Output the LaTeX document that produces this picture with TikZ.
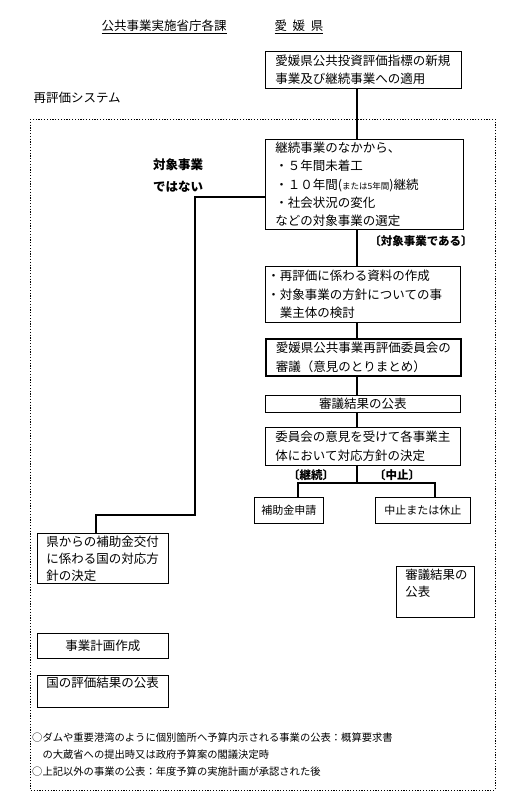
\documentclass[tikz,border=0pt]{standalone}
\usepackage{fontspec}
\newfontfamily\jp{Noto Sans CJK JP}

\begin{document}
\begin{tikzpicture}[x=1pt, y=-1pt,
      every node/.style={font=\jp\fontsize{12.5pt}{18.5pt}\selectfont},
      box/.style={draw, line width=0.8pt, anchor=north west, align=left, inner xsep=10pt, inner ysep=0pt},
      smallbox/.style={box, align=center, inner xsep=2pt, font=\jp\fontsize{11pt}{14pt}\selectfont},
      boldtext/.style={font=\jp\bfseries\fontsize{11.5pt}{22pt}\selectfont},
      link/.style={line width=1.2pt}]
    \useasboundingbox (0,0) rectangle (516,800);
    \node (kacho) at (164,27) {\underline{公共事業実施省庁各課}};
    \node (ken) at (299,27) {\underline{愛\hspace{0.45em}媛\hspace{0.45em}県}};
    \node[box, minimum width=196pt, minimum height=37pt, text width=176pt] (shinki) at (265,51)
        {愛媛県公共投資評価指標の新規\\事業及び継続事業への適用};
    \node[anchor=west] (system) at (30,98) {再評価システム};
    \draw[dash pattern=on 1.2pt off 1.6pt, line width=1pt] (30,119) rectangle (495,790);
    \node[box, minimum width=198pt, minimum height=90pt, text width=178pt,
        font=\jp\fontsize{12.5pt}{18.3pt}\selectfont] (sentei) at (265,139)
        {継続事業のなかから、\\・５年間未着工\\・１０年間({\fontsize{8.5pt}{9pt}\selectfont または5年間})継続\\・社会状況の変化\\などの対象事業の選定};
    \node[boldtext, anchor=north west, align=left, inner sep=0pt,
        font=\jp\bfseries\fontsize{12.5pt}{22pt}\selectfont] (hitaisho) at (153,159) {対象事業\\ではない};
    \node[boldtext] (taisho) at (421,241) {〔対象事業である〕};
    \node[box, minimum width=195pt, minimum height=56pt, text width=191pt, inner xsep=2pt] (shiryo) at (265,266)
        {・再評価に係わる資料の作成\\・対象事業の方針についての事\\　業主体の検討};
    \node[box, line width=1.6pt, minimum width=195pt, minimum height=37pt, text width=175pt] (shingi) at (265,338)
        {愛媛県公共事業再評価委員会の\\審議（意見のとりまとめ）};
    \node[box, align=center, minimum width=195pt, minimum height=17pt, text width=175pt] (kekka) at (265,395)
        {審議結果の公表};
    \node[box, minimum width=195pt, minimum height=38pt, text width=175pt,
        font=\jp\fontsize{12.5pt}{19.5pt}\selectfont] (houshin) at (265,427)
        {委員会の意見を受けて各事業主\\体において対応方針の決定};
    \node[boldtext] (keizokutag) at (311,475) {〔継続〕};
    \node[boldtext] (chushitag) at (397,475) {〔中止〕};
    \node[smallbox, minimum width=69pt, minimum height=26pt] (hojo) at (254,497) {補助金申請};
    \node[smallbox, minimum width=95pt, minimum height=26pt] (kyushi) at (375,497) {中止または休止};
    \node[box, minimum width=131pt, minimum height=50pt, text width=113pt, inner xsep=9pt,
        font=\jp\fontsize{12.5pt}{17pt}\selectfont] (kuni) at (37,533)
        {県からの補助金交付\\に係わる国の対応方\\針の決定};
    \node[box, minimum width=78pt, minimum height=51pt, inner xsep=9pt,
        font=\jp\fontsize{12.4pt}{17pt}\selectfont] (kouhyo) at (396,566)
        {\parbox[t][46pt][t]{60pt}{審議結果の\\公表}};
    \node[box, align=center, minimum width=131pt, minimum height=25pt, text width=113pt, inner xsep=9pt] (keikaku) at (37,633)
        {事業計画作成};
    \node[box, minimum width=131pt, minimum height=32pt, inner xsep=9pt] (hyoka) at (37,675)
        {\parbox[t][28pt][t]{113pt}{国の評価結果の公表}};
    \node[anchor=north west, align=left, inner sep=0pt, font=\jp\fontsize{10.3pt}{17pt}\selectfont] (chuki) at (32,733)
        {○ダムや重要港湾のように個別箇所へ予算内示される事業の公表：概算要求書\\　の大蔵省への提出時又は政府予算案の閣議決定時\\○上記以外の事業の公表：年度予算の実施計画が承認された後};
    \coordinate (trunk) at (357,0);
    \coordinate (bend) at (195,197);
    \coordinate (drop) at (96,515);
    \coordinate (fork) at (357,483);
    \coordinate (forkL) at (298,483);
    \coordinate (forkR) at (435,483);
    \draw[link] (shinki.south -| trunk) -- (sentei.north -| trunk);
    \draw[link] (sentei.south -| trunk) -- (shiryo.north -| trunk);
    \draw[link] (shiryo.south -| trunk) -- (shingi.north -| trunk);
    \draw[link] (shingi.south -| trunk) -- (kekka.north -| trunk);
    \draw[link] (kekka.south -| trunk) -- (houshin.north -| trunk);
    \draw[link] (houshin.south -| trunk) -- (fork);
    \draw[link] (hojo.north -| forkL) -- (forkL) -- (forkR) -- (kyushi.north -| forkR);
    \draw[link] (sentei.west |- bend) -- (bend) |- (drop) -- (kuni.north -| drop);
\end{tikzpicture}
\end{document}
